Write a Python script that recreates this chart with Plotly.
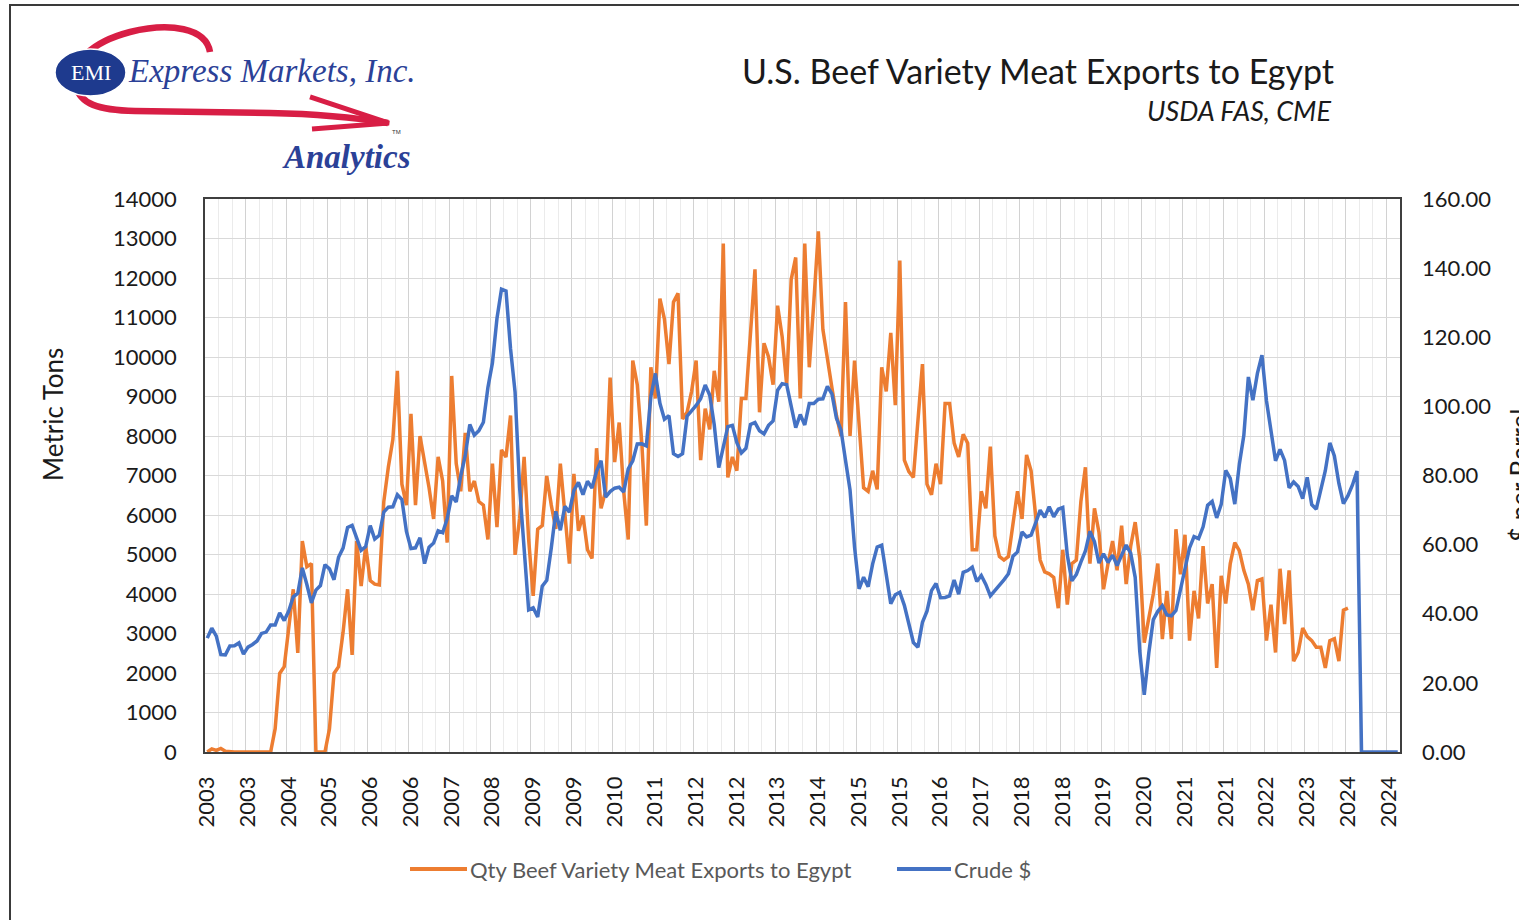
import plotly.graph_objects as go

# ---------------- data ----------------
years = list(range(2003, 2025))
months = [f"{y}-{m:02d}" for y in years for m in range(1, 13)]

# Qty Beef Variety Meat Exports to Egypt (metric tons), monthly 2003-01 .. 2024-01
beef_tons = [
    0, 80, 40, 90, 20, 0, 0, 0, 0, 0, 0, 0,                                   # 2003
    0, 0, 0, 590, 1990, 2160, 3200, 4120, 2510, 5340, 4690, 4770,             # 2004
    0, 0, 0, 590, 1990, 2160, 3030, 4120, 2460, 5340, 4200, 5210,             # 2005
    4340, 4250, 4230, 6340, 7210, 7910, 9650, 6780, 6250, 8560, 6250, 8000,   # 2006
    7390, 6690, 5900, 7470, 6860, 5300, 9520, 7300, 6600, 8080, 6600, 6860,   # 2007
    6340, 6250, 5380, 7300, 5690, 7650, 7470, 8520, 4990, 5900, 7470, 5380,   # 2008
    3950, 5640, 5730, 6990, 6250, 5650, 7300, 6080, 4770, 7040, 5600, 5990,   # 2009
    5120, 4900, 7690, 6170, 6600, 9480, 7340, 8340, 6600, 5380, 9910, 9300,   # 2010
    7820, 5730, 9740, 8950, 11480, 10960, 9820, 11390, 11610, 8430, 8600, 9130,  # 2011
    9910, 7390, 8690, 8170, 9650, 8870, 12870, 6950, 7470, 7120, 8950, 8950,  # 2012
    10600, 12220, 8600, 10350, 10000, 9300, 11300, 10520, 9300, 11960, 12520, 8950,  # 2013
    12870, 9740, 11390, 13180, 10700, 9910, 9220, 8520, 8000, 11390, 8000, 9910,  # 2014
    8260, 6690, 6600, 7120, 6650, 9740, 9130, 10610, 8780, 12440, 7390, 7100,  # 2015
    6950, 8400, 9820, 6780, 6510, 7300, 6780, 8820, 8820, 7820, 7470, 8040,   # 2016
    7820, 5120, 5120, 6600, 6170, 7730, 5470, 4950, 4860, 4950, 5820, 6600,   # 2017
    5900, 7520, 7120, 5900, 4860, 4560, 4510, 4420, 3640, 5120, 3730, 4770,   # 2018
    4860, 6340, 7210, 4770, 6170, 5560, 4120, 4770, 5340, 4600, 5730, 4250,   # 2019
    5210, 5820, 4900, 2770, 3400, 4000, 4770, 2860, 4080, 2860, 5640, 4500,   # 2020
    5500, 2820, 4080, 3380, 5210, 3760, 4250, 2130, 4460, 3760, 4770, 5300,   # 2021
    5100, 4600, 4250, 3590, 4340, 4380, 2820, 3730, 2520, 4640, 3240, 4600,   # 2022
    2300, 2520, 3140, 2920, 2820, 2650, 2650, 2130, 2820, 2870, 2300, 3590,   # 2023
    3640, None, None, None, None, None, None, None, None, None, None, None,   # 2024
]

# Crude $ per barrel, monthly
crude_usd = [
    32.95, 35.83, 33.51, 28.17, 28.11, 30.66, 30.76, 31.57, 28.31, 30.34, 31.11, 32.13,   # 2003
    34.31, 34.69, 36.74, 36.75, 40.28, 38.03, 40.78, 44.90, 45.94, 53.28, 48.47, 43.15,   # 2004
    46.84, 48.15, 54.19, 52.98, 49.83, 56.35, 59.00, 64.99, 65.59, 62.26, 58.32, 59.41,   # 2005
    65.49, 61.63, 62.69, 69.44, 70.84, 70.95, 74.41, 73.04, 63.80, 58.89, 59.08, 61.96,   # 2006
    54.51, 59.28, 60.44, 63.98, 63.46, 67.49, 74.12, 72.36, 79.92, 85.80, 94.77, 91.69,   # 2007
    92.97, 95.39, 105.45, 112.58, 125.40, 133.88, 133.37, 116.67, 104.11, 76.61, 57.31, 41.12,  # 2008
    41.71, 39.09, 47.94, 49.65, 59.03, 69.64, 64.15, 71.05, 69.41, 75.72, 77.99, 74.47,   # 2009
    78.33, 76.39, 81.20, 84.29, 73.74, 75.34, 76.32, 76.60, 75.24, 81.89, 84.25, 89.15,   # 2010
    89.17, 88.58, 102.86, 109.53, 100.90, 96.26, 97.30, 86.33, 85.52, 86.32, 97.16, 98.56,  # 2011
    100.27, 102.20, 106.16, 103.32, 94.66, 82.30, 87.90, 94.13, 94.51, 89.49, 86.53, 87.86,  # 2012
    94.76, 95.31, 92.94, 92.02, 94.51, 95.77, 104.67, 106.57, 106.29, 100.54, 93.86, 97.63,  # 2013
    94.62, 100.82, 100.80, 102.07, 102.18, 105.79, 103.59, 96.54, 93.21, 84.40, 75.79, 59.29,  # 2014
    47.22, 50.58, 47.82, 54.45, 59.27, 59.82, 50.90, 42.87, 45.48, 46.22, 42.44, 37.19,   # 2015
    31.68, 30.32, 37.55, 40.75, 46.71, 48.76, 44.65, 44.72, 45.18, 49.78, 45.66, 51.97,   # 2016
    52.50, 53.47, 49.33, 51.06, 48.48, 45.18, 46.63, 48.04, 49.82, 51.58, 56.64, 57.88,   # 2017
    63.70, 62.23, 62.73, 66.25, 69.98, 67.87, 70.98, 68.06, 70.23, 70.75, 56.96, 49.52,   # 2018
    51.38, 54.95, 58.15, 63.86, 60.83, 54.66, 57.35, 54.81, 56.95, 53.96, 57.03, 59.88,   # 2019
    57.52, 50.54, 29.21, 16.55, 28.56, 38.31, 40.71, 42.34, 39.63, 39.40, 40.94, 47.02,   # 2020
    52.00, 59.04, 62.33, 61.72, 65.17, 71.38, 72.49, 67.73, 71.65, 81.48, 79.15, 71.71,   # 2021
    83.22, 91.64, 108.50, 101.78, 109.55, 114.84, 101.62, 93.67, 84.26, 87.55, 84.37, 76.44,  # 2022
    78.12, 76.83, 73.28, 79.45, 71.58, 70.25, 76.07, 81.39, 89.43, 85.64, 77.69, 71.90,   # 2023
    74.15, 77.25, 81.28, 0, 0, 0, 0, 0, 0, 0, 0, 0,                                       # 2024
]

x_tick_labels = ["2003", "2003", "2004", "2005", "2006", "2006", "2007", "2008", "2009", "2009",
                 "2010", "2011", "2012", "2012", "2013", "2014", "2015", "2015", "2016", "2017",
                 "2018", "2018", "2019", "2020", "2021", "2021", "2022", "2023", "2024", "2024"]
label_step = 9

left_ticks = list(range(0, 14001, 1000))
right_ticks = list(range(0, 161, 20))

# ---------------- layout geometry ----------------
W, H = 1519, 920
PL, PR, PT, PB = 205, 1400, 199, 752


def px(x):
    return (x - PL) / (PR - PL)


def py(y):
    return (PB - y) / (PB - PT)


def P(x, y):
    return f"{px(x):.5f},{py(y):.5f}"


idx = list(range(len(months)))
label_pos = idx[::label_step]

FONT = "Lato, 'Open Sans', sans-serif"
ORANGE = "#ED7D31"
BLUE = "#4472C4"

fig = go.Figure()
fig.add_trace(go.Scatter(x=idx, y=beef_tons, mode="lines", name="Qty Beef Variety Meat Exports to Egypt",
                         line=dict(color=ORANGE, width=3.5), connectgaps=False, yaxis="y",
                         customdata=months, hovertemplate="%{customdata}: %{y}<extra></extra>"))
fig.add_trace(go.Scatter(x=idx, y=crude_usd, mode="lines", name="Crude $",
                         line=dict(color=BLUE, width=3.5), yaxis="y2",
                         customdata=months, hovertemplate="%{customdata}: %{y:.2f}<extra></extra>"))

shapes = []
annotations = []

# outer border of the chart area
shapes.append(dict(type="line", xref="paper", yref="paper", x0=px(10), y0=py(5), x1=px(1530), y1=py(5),
                   line=dict(color="#3a3a3a", width=2), layer="above"))
shapes.append(dict(type="line", xref="paper", yref="paper", x0=px(10), y0=py(4), x1=px(10), y1=py(930),
                   line=dict(color="#3a3a3a", width=2), layer="above"))

# ---- logo ----
RED = "#D81E45"
LOGO_BLUE = "#2B4197"
swoosh = ("M " + P(210, 52) + " C " + P(206, 28) + " " + P(170, 22) + " " + P(130, 32) +
          " C " + P(92, 42) + " " + P(70, 62) + " " + P(76, 86) +
          " C " + P(80, 104) + " " + P(98, 110) + " " + P(135, 111) +
          " L " + P(270, 113) + " C " + P(320, 114) + " " + P(352, 117) + " " + P(388, 123))
shapes.append(dict(type="path", xref="paper", yref="paper", path=swoosh,
                   line=dict(color=RED, width=6.5), layer="above"))
arrow = "M " + P(310, 97) + " L " + P(389, 123) + " L " + P(312, 129)
shapes.append(dict(type="path", xref="paper", yref="paper", path=arrow,
                   line=dict(color=RED, width=5), layer="above"))
shapes.append(dict(type="circle", xref="paper", yref="paper", x0=px(55), x1=px(126), y0=py(96), y1=py(49),
                   fillcolor="#1E3A8E", line=dict(color="white", width=1.5), layer="above"))
annotations.append(dict(text="EMI", x=px(90.5), y=py(72), xref="paper", yref="paper", showarrow=False,
                        xanchor="center", yanchor="middle",
                        font=dict(family="Liberation Serif, serif", size=22, color="white")))
annotations.append(dict(text="<i>Express Markets, Inc.</i>", x=px(126), y=py(71), xref="paper", yref="paper",
                        showarrow=False, xanchor="left", yanchor="middle",
                        font=dict(family="Liberation Serif, serif", size=33, color=LOGO_BLUE)))
annotations.append(dict(text="<b><i>Analytics</i></b>", x=px(413), y=py(157), xref="paper", yref="paper",
                        showarrow=False, xanchor="right", yanchor="middle",
                        font=dict(family="Liberation Serif, serif", size=33, color=LOGO_BLUE)))
annotations.append(dict(text="TM", x=px(396), y=py(132), xref="paper", yref="paper", showarrow=False,
                        xanchor="center", yanchor="middle",
                        font=dict(family="Liberation Sans, sans-serif", size=6, color="#333333")))

# ---- titles ----
annotations.append(dict(text="U.S. Beef Variety Meat Exports to Egypt", x=px(1336), y=py(70),
                        xref="paper", yref="paper", showarrow=False, xanchor="right", yanchor="middle",
                        font=dict(family=FONT, size=34, color="#1a1a1a")))
annotations.append(dict(text="<i>USDA FAS, CME</i>", x=px(1333), y=py(111),
                        xref="paper", yref="paper", showarrow=False, xanchor="right", yanchor="middle",
                        font=dict(family=FONT, size=27, color="#1a1a1a")))
annotations.append(dict(text="Metric Tons", x=px(53), y=py(415), xref="paper", yref="paper",
                        showarrow=False, textangle=-90, xanchor="center", yanchor="middle",
                        font=dict(family=FONT, size=26, color="#1a1a1a")))
annotations.append(dict(text="$ per Barrel", x=px(1520), y=py(476), xref="paper", yref="paper",
                        showarrow=False, textangle=-90, xanchor="center", yanchor="middle",
                        font=dict(family=FONT, size=26, color="#1a1a1a")))

# ---- legend (drawn manually to match the source layout) ----
LEG_Y = 869
shapes.append(dict(type="line", xref="paper", yref="paper", x0=px(410), x1=px(467), y0=py(LEG_Y), y1=py(LEG_Y),
                   line=dict(color=ORANGE, width=4)))
annotations.append(dict(text="Qty Beef Variety Meat Exports to Egypt", x=px(468), y=py(LEG_Y),
                        xref="paper", yref="paper", showarrow=False, xanchor="left", yanchor="middle",
                        font=dict(family=FONT, size=22, color="#595959")))
shapes.append(dict(type="line", xref="paper", yref="paper", x0=px(897), x1=px(951), y0=py(LEG_Y), y1=py(LEG_Y),
                   line=dict(color=BLUE, width=4)))
annotations.append(dict(text="Crude $", x=px(952), y=py(LEG_Y),
                        xref="paper", yref="paper", showarrow=False, xanchor="left", yanchor="middle",
                        font=dict(family=FONT, size=22, color="#595959")))

tickfont = dict(family=FONT, size=22, color="#1a1a1a")
FRAME = "#3f3f3f"

fig.update_layout(
    width=W, height=H, autosize=False,
    margin=dict(l=PL, r=W - PR, t=PT, b=H - PB, pad=0),
    paper_bgcolor="white", plot_bgcolor="white",
    showlegend=False,
    shapes=shapes, annotations=annotations,
    xaxis=dict(
        range=[-0.5, len(months) - 0.5],
        tickmode="array", tickvals=[p - 0.5 for p in label_pos], ticktext=x_tick_labels,
        ticklabelshift=2,
        tickangle=-90, tickfont=tickfont, ticks="", ticklabelstandoff=14,
        showgrid=True, gridcolor="#d2d2d2", gridwidth=1,
        minor=dict(tickmode="array", tickvals=[i - 0.5 for i in range(3, len(months), 3)],
                   showgrid=True, gridcolor="#ebebeb", gridwidth=1, ticks=""),
        showline=True, mirror=True, linecolor=FRAME, linewidth=1.5, zeroline=False,
    ),
    yaxis=dict(
        range=[0, 14000], tickmode="array", tickvals=left_ticks, ticktext=[str(v) for v in left_ticks],
        tickfont=tickfont, ticks="", ticklabelstandoff=22,
        showgrid=True, gridcolor="#d9d9d9", gridwidth=1,
        showline=True, mirror=True, linecolor=FRAME, linewidth=1.5, zeroline=False,
    ),
    yaxis2=dict(
        range=[0, 160], overlaying="y", side="right", tickmode="array", tickvals=right_ticks,
        ticktext=[f"{v:.2f}" for v in right_ticks],
        tickfont=tickfont, ticks="", ticklabelstandoff=21,
        showgrid=False, zeroline=False, showline=False,
    ),
)

fig.write_html("out.html", config={"displayModeBar": False},
               post_script="document.body.style.margin='0';document.body.style.overflow='hidden';")
